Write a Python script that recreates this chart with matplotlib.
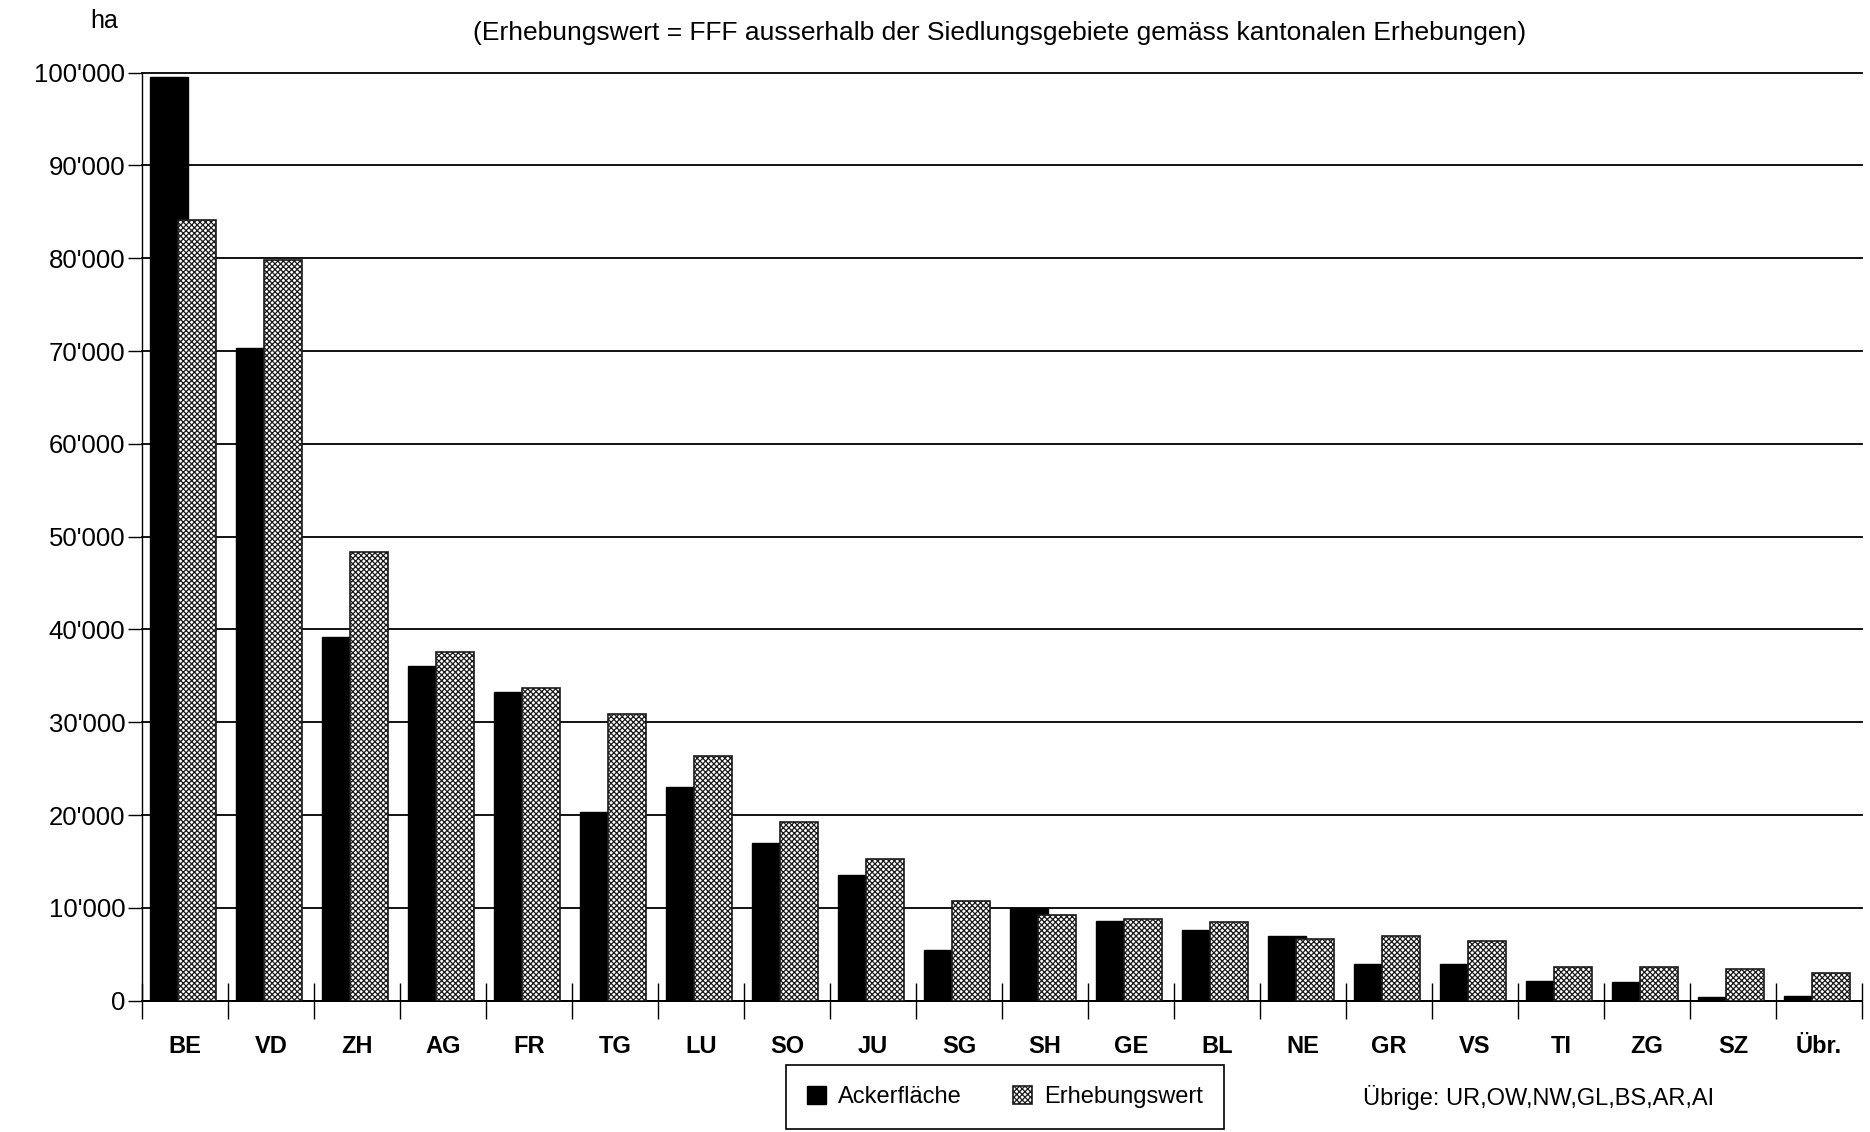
import matplotlib.pyplot as plt
import numpy as np
from matplotlib.ticker import FuncFormatter, MultipleLocator

kantone = ["BE", "VD", "ZH", "AG", "FR", "TG", "LU", "SO", "JU", "SG",
           "SH", "GE", "BL", "NE", "GR", "VS", "TI", "ZG", "SZ", "Übr."]
ackerflaeche = [99500, 70300, 39200, 36100, 33300, 20300, 23000, 17000, 13500, 5500,
                9950, 8630, 7660, 6940, 3950, 3950, 2160, 1980, 430, 540]
erhebungswert = [84100, 79800, 48300, 37600, 33700, 30850, 26350, 19300, 15300, 10750,
                 9250, 8810, 8450, 6650, 7010, 6370, 3670, 3670, 3420, 2950]

plt.rcParams["font.family"] = ["Liberation Sans", "DejaVu Sans"]
plt.rcParams["hatch.linewidth"] = 0.9

fig = plt.figure(figsize=(18.7, 11.32), dpi=100)
ax = fig.add_axes([142 / 1870, 131.4 / 1132, 1720 / 1870, 0.8197])

x = np.arange(len(kantone))
bar_w = 0.44
ax.bar(x + 0.09, ackerflaeche, width=bar_w, align="edge", color="black",
       edgecolor="black", linewidth=1, zorder=3, label="Ackerfläche")
ax.bar(x + 0.42, erhebungswert, width=bar_w, align="edge", color="white",
       edgecolor="#1a1a1a", hatch="xxxxxx", linewidth=1.2, zorder=4, label="Erhebungswert")

ax.set_xlim(0, len(kantone))
ax.set_ylim(0, 100000)
ax.yaxis.set_major_locator(MultipleLocator(10000))
ax.yaxis.set_major_formatter(FuncFormatter(lambda v, p: f"{int(v):,}".replace(",", "'")))
ax.grid(axis="y", color="black", linewidth=1.3, zorder=1)
for gl in ax.get_ygridlines():
    gl.set_clip_on(False)
ax.set_axisbelow(True)

ax.set_xticks(np.arange(len(kantone) + 1), minor=False)
ax.set_xticklabels([])
ax.tick_params(axis="x", which="major", direction="inout", length=26, width=1)
ax.set_xticks(x + 0.5, minor=True)
ax.set_xticklabels(kantone, minor=True, fontweight="bold", fontsize=17)
ax.tick_params(axis="x", which="minor", length=0, pad=25)
ax.tick_params(axis="y", direction="out", length=10, width=1, labelsize=18.5, pad=2)

for side in ("top", "right"):
    ax.spines[side].set_visible(False)
ax.spines["left"].set_linewidth(1)
ax.spines["bottom"].set_linewidth(1.4)

fig.text(104 / 1870, 1 - 21 / 1132, "ha", fontsize=18, ha="center", va="center")
fig.text(1000 / 1870, 1 - 33 / 1132,
         "(Erhebungswert = FFF ausserhalb der Siedlungsgebiete gemäss kantonalen Erhebungen)",
         fontsize=19, ha="center", va="center")

leg = fig.legend(loc="center", bbox_to_anchor=(1005 / 1870, 1 - 1097 / 1132), ncol=2,
                 fontsize=17, fancybox=False, edgecolor="black", framealpha=1,
                 handlelength=0.8, handleheight=0.8, columnspacing=2.2,
                 borderpad=0.9, handletextpad=0.5)
leg.get_frame().set_linewidth(1.2)

fig.text(1363 / 1870, 1 - 1097 / 1132, "Übrige: UR,OW,NW,GL,BS,AR,AI",
         fontsize=17, ha="left", va="center")

fig.savefig("out.png", dpi=100, facecolor="white")
